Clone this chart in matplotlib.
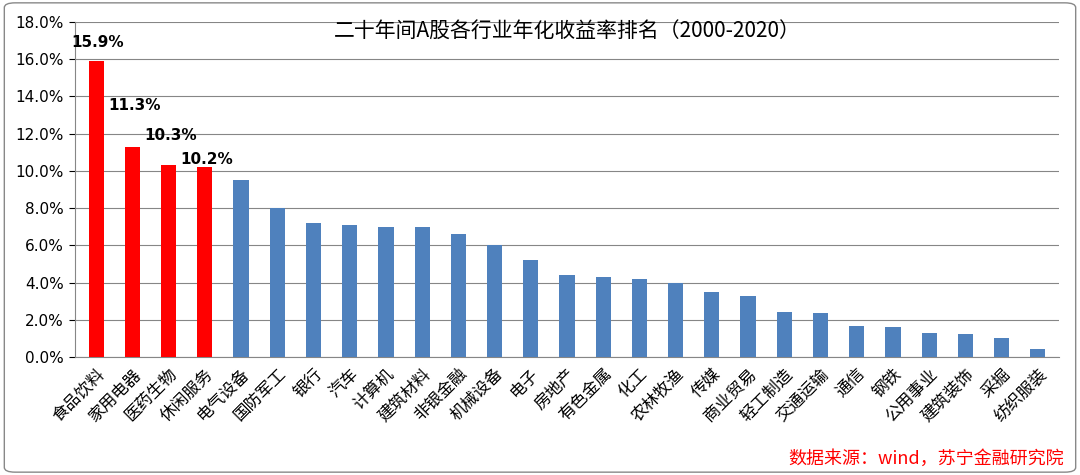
import matplotlib.pyplot as plt
from matplotlib.patches import FancyBboxPatch

plt.rcParams['font.family'] = ['Noto Sans CJK SC']

industries = ['食品饮料', '家用电器', '医药生物', '休闲服务', '电气设备', '国防军工', '银行', '汽车',
              '计算机', '建筑材料', '非银金融', '机械设备', '电子', '房地产', '有色金属', '化工',
              '农林牧渔', '传媒', '商业贸易', '轻工制造', '交通运输', '通信', '钢铁', '公用事业',
              '建筑装饰', '采掘', '纺织服装']
returns = [15.9, 11.3, 10.3, 10.2, 9.5, 8.0, 7.2, 7.1, 7.0, 7.0, 6.6, 6.0, 5.2, 4.4, 4.3, 4.2,
           4.0, 3.5, 3.3, 2.4, 2.35, 1.7, 1.6, 1.3, 1.25, 1.05, 0.45]
top_n = 4

fig = plt.figure(figsize=(10.8, 4.75), dpi=100)
fig.patches.append(FancyBboxPatch((0.004, 0.006), 0.992, 0.988, boxstyle="round,pad=0,rounding_size=0.01",
                                  transform=fig.transFigure, fill=False, edgecolor='#888888', linewidth=1))
ax = fig.add_axes([0.069, 0.248, 0.912, 0.706])

colors = ['#ff0000' if i < top_n else '#4f81bd' for i in range(len(returns))]
x = range(len(returns))
ax.bar(x, returns, width=0.42, color=colors, zorder=3)

# label offsets for the top bars (as in the original picture)
offsets = [1.0, 2.2, 1.6, 0.4]
for i in range(top_n):
    ax.text(i + 0.05, returns[i] + offsets[i], f'{returns[i]:.1f}%', ha='center', va='center',
            fontsize=11, fontweight='bold', family='DejaVu Sans')

ax.set_xlim(-0.6, len(returns) - 0.4)
ax.set_ylim(0, 18)
ax.set_yticks(range(0, 19, 2))
ax.set_yticklabels([f'{v:.1f}%' for v in range(0, 19, 2)], fontsize=11, family='DejaVu Sans')
ax.yaxis.grid(True, color='#868686', linewidth=0.8, zorder=0)
ax.set_xticks(list(x))
ax.set_xticklabels(industries, rotation=45, ha='right', rotation_mode='anchor', fontsize=12)
ax.tick_params(axis='x', length=0, pad=6)
ax.tick_params(axis='y', length=4)
for s in ['top', 'right']:
    ax.spines[s].set_visible(False)
ax.spines['left'].set_color('#868686')
ax.spines['bottom'].set_color('#868686')

ax.text(0.5, 0.97, '二十年间A股各行业年化收益率排名（2000-2020）', transform=ax.transAxes,
        ha='center', va='center', fontsize=15)
fig.text(0.985, 0.035, '数据来源：wind，苏宁金融研究院', ha='right', va='center', color='#ff0000',
         fontsize=13, style='italic')

fig.savefig('out.png', dpi=100)
